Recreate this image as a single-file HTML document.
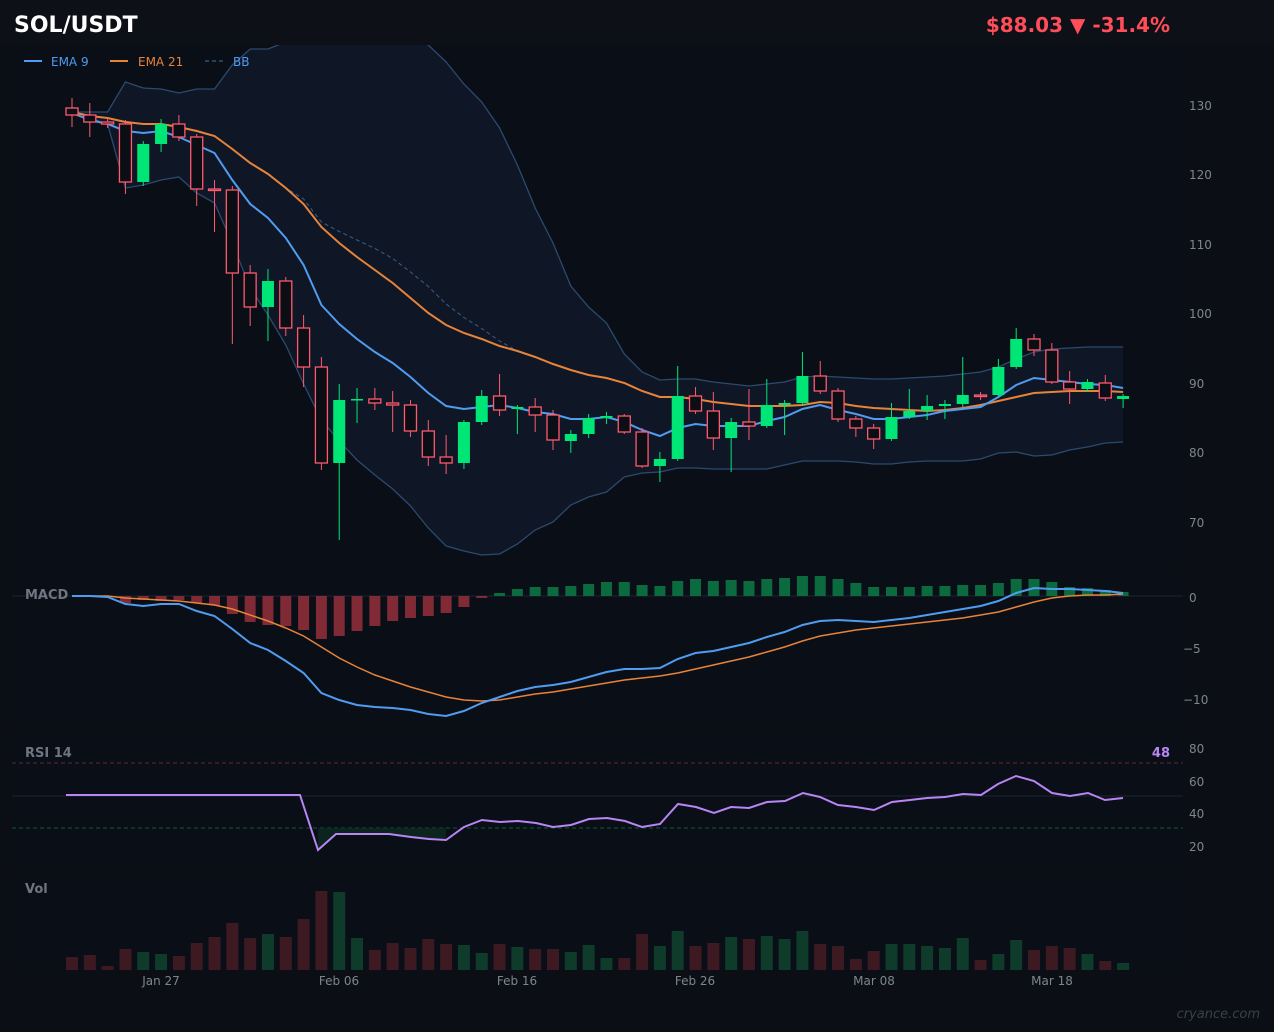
<!DOCTYPE html>
<html><head><meta charset="utf-8"><style>
html,body{margin:0;padding:0;background:#0b0e14;}
svg{display:block;font-family:"DejaVu Sans","Liberation Sans",sans-serif;}
</style></head><body>
<svg id="c" width="1274" height="1032" viewBox="0 0 1274 1032" xmlns="http://www.w3.org/2000/svg">
<rect width="1274" height="1032" fill="#0b0e14"/>
<rect x="0" y="0" width="1274" height="45" fill="#0d1017"/>
<rect x="12" y="45" width="1171" height="518" fill="#0a0e16"/>
<rect x="12" y="566" width="1171" height="160" fill="#0a0e16"/>
<rect x="12" y="732" width="1171" height="132" fill="#0a0e16"/>
<rect x="12" y="870" width="1171" height="101" fill="#0a0e16"/>
<defs><clipPath id="mc"><rect x="12" y="45" width="1171" height="518"/></clipPath></defs>
<g id="main" clip-path="url(#mc)"></g>
<g id="macd"></g>
<g id="rsi"></g>
<g id="vol"></g>
<text x="14" y="32" fill="#ffffff" font-size="22" font-weight="bold">SOL/USDT</text>
<text x="1170" y="32" fill="#ff4d5a" font-size="20" font-weight="bold" text-anchor="end">$88.03  ▼ -31.4%</text>
<line x1="24" y1="61" x2="42" y2="61" stroke="#4f9cf0" stroke-width="2"/>
<text x="51" y="66" fill="#4f9cf0" font-size="12">EMA 9</text>
<line x1="110" y1="61" x2="128" y2="61" stroke="#e8833a" stroke-width="2"/>
<text x="138" y="66" fill="#e8833a" font-size="12">EMA 21</text>
<line x1="205" y1="61" x2="223" y2="61" stroke="#4f9cf0" stroke-width="1" stroke-dasharray="4,3" opacity="0.7"/>
<text x="233" y="66" fill="#4f9cf0" font-size="12">BB</text>
<g fill="#7d8590" font-size="12">
<text x="1189" y="110">130</text><text x="1189" y="179">120</text><text x="1189" y="249">110</text>
<text x="1189" y="318">100</text><text x="1189" y="388">90</text><text x="1189" y="457">80</text><text x="1189" y="527">70</text>
<text x="1189" y="602">0</text><text x="1183" y="653">−5</text><text x="1183" y="704">−10</text>
<text x="1189" y="753">80</text><text x="1189" y="786">60</text><text x="1189" y="818">40</text><text x="1189" y="851">20</text>
<text x="161" y="985" text-anchor="middle">Jan 27</text><text x="339" y="985" text-anchor="middle">Feb 06</text>
<text x="517" y="985" text-anchor="middle">Feb 16</text><text x="695" y="985" text-anchor="middle">Feb 26</text>
<text x="874" y="985" text-anchor="middle">Mar 08</text><text x="1052" y="985" text-anchor="middle">Mar 18</text>
</g>
<text x="25" y="599" fill="#6e7681" font-size="13" font-weight="bold">MACD</text>
<text x="25" y="757" fill="#6e7681" font-size="13" font-weight="bold">RSI 14</text>
<text x="1170" y="757" fill="#b985f4" font-size="13" font-weight="bold" text-anchor="end">48</text>
<text x="25" y="893" fill="#6e7681" font-size="13" font-weight="bold">Vol</text>
<text x="1260" y="1018" fill="#3a404a" font-size="13" font-style="italic" text-anchor="end">cryance.com</text>
</svg>
<script>
var NS="http://www.w3.org/2000/svg";
function el(p,t,a){var e=document.createElementNS(NS,t);for(var k in a)e.setAttribute(k,a[k]);p.appendChild(e);return e;}
var X=[];for(var i=0;i<60;i++)X.push(72+i*17.815);
var C=[[108,115,98,127,0],[115,122,103,137,0],[122,124,118,128,0],[124,182,120,194,0],[144,182,141,186,1],[124,144,119,152,1],[124,137,115,141,0],[137,189,134,206,0],[189,190,180,232,0],[190,273,186,344,0],
[273,307,265,326,0],[281,307,269,341,1],[281,328,277,336,0],[328,367,315,387,0],[367,463,357,470,0],[400,463,384,540,1],[399,400,388,423,1],[399,403,388,410,0],[403,405,391,432,0],[405,431,400,437,0],
[431,457,420,466,0],[457,463,435,474,0],[422,463,420,469,1],[396,422,390,425,1],[396,410,374,416,0],[407,409,405,434,1],[407,415,398,432,0],[415,440,410,450,0],[434,441,430,453,1],[418,434,414,438,1],
[416,418,412,424,1],[416,432,414,434,0],[432,466,428,468,0],[459,466,452,482,1],[396,459,366,461,1],[396,411,387,414,0],[411,438,392,450,0],[422,438,418,472,1],[422,426,389,440,0],[405,426,379,428,1],
[403,405,400,435,1],[376,403,352,406,1],[376,391,361,394,0],[391,419,388,422,0],[419,428,416,437,0],[428,439,424,449,0],[417,439,403,441,1],[411,417,389,419,1],[406,411,395,420,1],[404,406,400,419,1],
[395,404,357,407,1],[395,396,392,400,0],[367,395,359,397,1],[339,367,328,369,1],[339,350,334,356,0],[350,382,343,384,0],[382,389,371,404,0],[382,389,379,392,1],[383,398,375,401,0],[396,399,394,408,1]];
var E9=[113,120,124,131,133,131,137,145,153,180,204,218,238,265,305,324,339,352,363,377,393,406,409,407,405,408,412,414,419,419,417,422,430,436,428,424,426,426,426,421,417,409,405,410,414,419,419,417,415,411,409,407,397,385,378,380,382,384,385,388];
var E21=[112,116,118,122,124,124,127,131,136,149,163,174,188,204,227,243,257,270,283,298,313,325,333,339,346,351,357,364,370,375,378,383,391,397,397,399,402,404,406,406,406,405,402,403,406,408,409,410,411,410,408,405,401,397,393,392,391,391,391,392];
var BU=[112,112,112,82,88,89,93,89,89,65,49,49,42,38,28,22,20,22,28,38,45,62,84,102,128,165,208,243,286,307,323,354,372,380,379,379,382,384,386,384,382,377,376,377,378,379,379,378,377,376,374,372,367,359,352,349,348,347,347,347];
var BL=[112,118,124,188,185,180,177,193,203,243,288,315,345,384,420,441,460,475,489,506,528,546,551,555,554,544,530,522,505,497,492,477,473,472,468,468,469,469,469,469,465,461,461,461,462,464,464,462,461,461,461,459,453,452,456,455,450,447,443,442];
var H=[596,596,596,603,600,601,600,603,605,614,622,625,626,630,639,636,631,626,621,618,616,613,607,598,593,589,587,587,586,584,582,582,585,586,581,579,581,580,581,579,578,576,576,579,583,587,587,587,586,586,585,585,583,579,579,582,587,588,590,592];
var M=[596,596,597,604,606,604,604,611,616,629,643,650,661,673,693,700,705,707,708,710,714,716,711,703,697,691,687,685,682,677,672,669,669,668,659,653,651,647,643,637,632,625,621,620,621,622,620,618,615,612,609,606,601,593,588,589,589,590,591,593];
var S=[596,596,596,598,599,600,601,603,605,609,615,621,628,636,647,658,667,675,681,687,692,697,700,701,700,697,694,692,689,686,683,680,678,676,673,669,665,661,657,652,647,641,636,633,630,628,626,624,622,620,618,615,612,607,602,598,596,595,595,594];
var V=[957,955,966,949,952,954,956,943,937,923,938,934,937,919,891,892,938,950,943,948,939,944,945,953,944,947,949,949,952,945,958,958,934,946,931,946,943,937,939,936,939,931,944,946,959,951,944,944,946,948,938,960,954,940,950,946,948,954,961,963];
function pts(Y){return Y.map(function(y,i){return X[i].toFixed(1)+","+y;}).join(" ");}
var g=document.getElementById("main");
var poly=pts(BU)+" "+BL.map(function(y,i){return X[i].toFixed(1)+","+y;}).reverse().join(" ");
el(g,"polygon",{points:poly,fill:"#0f1726"});
el(g,"polyline",{points:pts(BU),fill:"none",stroke:"#2b4a6e",'stroke-width':1.3});
el(g,"polyline",{points:pts(BL),fill:"none",stroke:"#2b4a6e",'stroke-width':1.3});
var BM=BU.map(function(u,i){return (u+BL[i])/2;});
BM=BM.map(function(v,i){return Math.min(v,E21[i]+ (i>12&&i<25?-5:0));});
el(g,"polyline",{points:pts(BM),fill:"none",stroke:"#3b5f88",'stroke-width':1,'stroke-dasharray':"4,3"});
el(g,"polyline",{points:pts(E21),fill:"none",stroke:"#e8833a",'stroke-width':2});
el(g,"polyline",{points:pts(E9),fill:"none",stroke:"#4f9cf0",'stroke-width':2});
C.forEach(function(c,i){var col=c[4]?"#00e676":"#ff5a6e";var x=X[i];
el(g,"line",{x1:x,y1:c[2],x2:x,y2:c[3],stroke:col,'stroke-width':1});
var h=Math.max(c[1]-c[0],1.5);
if(c[4])el(g,"rect",{x:x-6,y:c[0],width:12,height:h,fill:col});
else el(g,"rect",{x:x-6,y:c[0],width:12,height:h,fill:"#0b0e14",stroke:col,'stroke-width':1.3});});
var m=document.getElementById("macd");
el(m,"line",{x1:12,y1:596,x2:1183,y2:596,stroke:"#1f2530",'stroke-width':1});
H.forEach(function(h,i){var t=Math.min(h,596),b=Math.max(h,596);if(b-t<1)return;
el(m,"rect",{x:X[i]-5.5,y:t,width:11,height:b-t,fill:h>596?"#7f2a35":"#0b6b3f"});});
el(m,"polyline",{points:pts(S),fill:"none",stroke:"#e8833a",'stroke-width':1.5});
el(m,"polyline",{points:pts(M),fill:"none",stroke:"#4f9cf0",'stroke-width':2});
var r=document.getElementById("rsi");
el(r,"line",{x1:12,y1:763,x2:1183,y2:763,stroke:"#5a2a36",'stroke-width':1,'stroke-dasharray':"4,3"});
el(r,"line",{x1:12,y1:796,x2:1183,y2:796,stroke:"#1f2530",'stroke-width':1});
el(r,"line",{x1:12,y1:828,x2:1183,y2:828,stroke:"#0d5a35",'stroke-width':1,'stroke-dasharray':"4,3"});
el(r,"polygon",{points:"318,828 318,850 336,834 389,834 411,837 429,839 446,840 446,828",fill:"#0c2a20",opacity:0.8});
var R=[[66,795],[300,795],[318,850],[336,834],[389,834],[411,837],[429,839],[446,840],[464,827],[482,820],[500,822],[518,821],[536,823],[553,827],[571,825],[589,819],[607,818],[625,821],[642,827],[660,824],[678,804],[696,807],[714,813],[731,807],[749,808],[767,802],[785,801],[803,793],[820,797],[838,805],[856,807],[874,810],[892,802],[910,800],[927,798],[945,797],[963,794],[981,795],[998,784],[1016,776],[1034,781],[1052,793],[1070,796],[1088,793],[1105,800],[1123,798]];
el(r,"polyline",{points:R.map(function(p){return p.join(",");}).join(" "),fill:"none",stroke:"#b985f4",'stroke-width':2});
var v=document.getElementById("vol");
V.forEach(function(t,i){el(v,"rect",{x:X[i]-6,y:t,width:12,height:970-t,fill:C[i][4]?"#0e3b2a":"#3d1a22"});});
</script>
</body></html>
